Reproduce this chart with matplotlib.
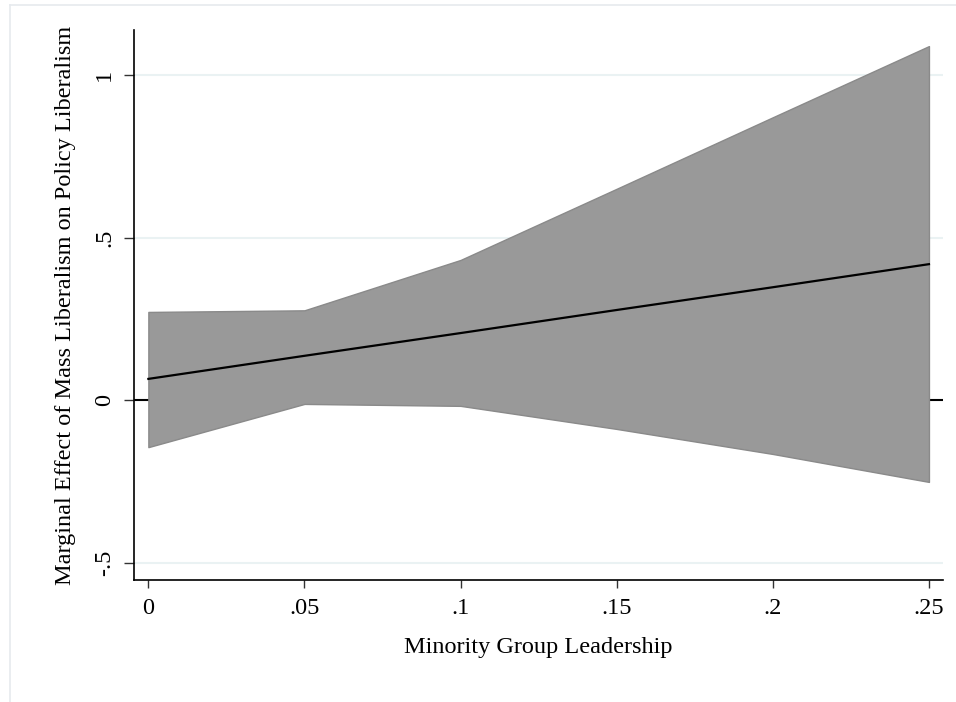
import matplotlib
matplotlib.use("Agg")
import matplotlib.pyplot as plt
from matplotlib.lines import Line2D

# Data
leadership = [0.0, 0.05, 0.10, 0.15, 0.20, 0.25]
effect = [0.065, 0.136, 0.206, 0.277, 0.347, 0.418]
upper_ci = [0.271, 0.276, 0.431, 0.650, 0.870, 1.089]
lower_ci = [-0.145, -0.012, -0.018, -0.089, -0.166, -0.252]

xticks = [0, 0.05, 0.10, 0.15, 0.20, 0.25]
xticklabels = ["0", ".05", ".1", ".15", ".2", ".25"]
yticks = [-0.5, 0, 0.5, 1]
yticklabels = ["-.5", "0", ".5", "1"]

plt.rcParams['font.family'] = ['Liberation Serif', 'DejaVu Serif']
FS = 17.5

fig = plt.figure(figsize=(9.56, 7.02), dpi=100)
fig.patch.set_facecolor('white')

# light outer frame
fig.add_artist(Line2D([10/956, 1.0], [1 - 5/702, 1 - 5/702], transform=fig.transFigure,
                      color='#e6eaee', lw=1.2))
fig.add_artist(Line2D([10/956, 10/956], [0.0, 1 - 5/702], transform=fig.transFigure,
                      color='#e6eaee', lw=1.2))

ax = fig.add_axes([134/956, 1 - 580/702, (943 - 134)/956, (580 - 30)/702])

ax.fill_between(leadership, lower_ci, upper_ci, facecolor='#999999',
                edgecolor='#8a8a8a', lw=1.0, zorder=2)
ax.plot(leadership, effect, color='black', lw=1.6, zorder=3)

for yv in [1, 0.5, -0.5]:
    ax.axhline(yv, color='#eaf2f3', lw=1.5, zorder=1)
ax.axhline(0, color='black', lw=1.5, zorder=1)

ax.set_xlim(-0.0046, 0.2545)
ax.set_ylim(-0.5538, 1.1385)

ax.set_xticks(xticks)
ax.set_xticklabels(xticklabels, fontsize=FS)
ax.set_yticks(yticks)
ax.set_yticklabels(yticklabels, fontsize=FS, rotation=90, va='center')

ax.tick_params(axis='y', length=7.5, width=1.0, color='#333333', pad=6)
ax.tick_params(axis='x', length=6, width=1.0, color='#333333', pad=7)

for s in ['top', 'right']:
    ax.spines[s].set_visible(False)
for s in ['left', 'bottom']:
    ax.spines[s].set_linewidth(1.2)
    ax.spines[s].set_color('black')

ax.set_xlabel('Minority Group Leadership', fontsize=FS, labelpad=13)
ax.set_ylabel('Marginal Effect of Mass Liberalism on Policy Liberalism', fontsize=FS, labelpad=13)

fig.savefig('out.png', dpi=100, facecolor='white')
